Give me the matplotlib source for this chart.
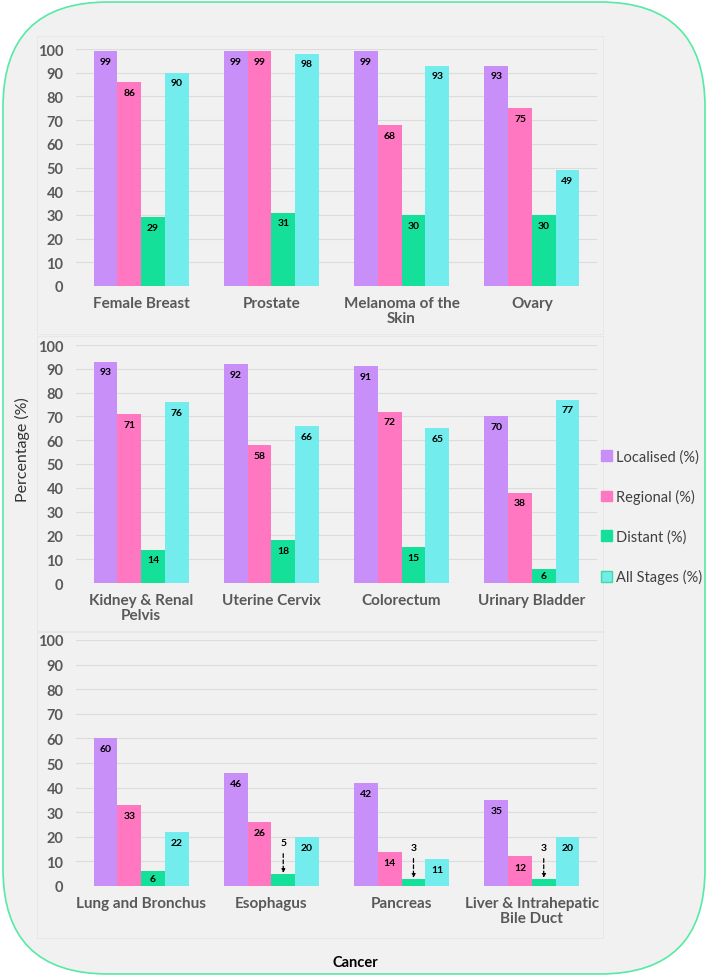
import matplotlib
matplotlib.use("Agg")
import matplotlib.pyplot as plt
import numpy as np
from matplotlib.patches import FancyBboxPatch, Rectangle, Patch
from matplotlib.transforms import IdentityTransform

plt.rcParams['font.family'] = ['Lato', 'DejaVu Sans']

# data, one block per panel
cancers_1 = ["Female Breast", "Prostate", "Melanoma of the\nSkin", "Ovary"]
localised_1 = [99, 99, 99, 93]
regional_1 = [86, 99, 68, 75]
distant_1 = [29, 31, 30, 30]
all_stages_1 = [90, 98, 93, 49]

cancers_2 = ["Kidney & Renal\nPelvis", "Uterine Cervix", "Colorectum", "Urinary Bladder"]
localised_2 = [93, 92, 91, 70]
regional_2 = [71, 58, 72, 38]
distant_2 = [14, 18, 15, 6]
all_stages_2 = [76, 66, 65, 77]

cancers_3 = ["Lung and Bronchus", "Esophagus", "Pancreas", "Liver & Intrahepatic\nBile Duct"]
localised_3 = [60, 46, 42, 35]
regional_3 = [33, 26, 14, 12]
distant_3 = [6, 5, 3, 3]
all_stages_3 = [22, 20, 11, 20]

series_names = ["Localised (%)", "Regional (%)", "Distant (%)", "All Stages (%)"]
colors = ["#c98ff9", "#ff77c0", "#14e09a", "#72ecec"]

panels = [
    (cancers_1, [localised_1, regional_1, distant_1, all_stages_1]),
    (cancers_2, [localised_2, regional_2, distant_2, all_stages_2]),
    (cancers_3, [localised_3, regional_3, distant_3, all_stages_3]),
]

W, H = 708, 978
fig = plt.figure(figsize=(W / 100, H / 100), dpi=100, facecolor="white")

# rounded background
bg = FancyBboxPatch((3, 3), W - 6, H - 6, boxstyle="round,pad=0,rounding_size=105",
                    facecolor="#f1f1f1", edgecolor="#55eaa5", linewidth=1.2,
                    transform=IdentityTransform(), zorder=-10)
fig.add_artist(bg)

# faint chart-area frames (pixel coords from top)
frames = [(37, 37, 603, 335), (37, 337, 603, 632), (37, 633, 603, 939)]
for x0, y0, x1, y1 in frames:
    fig.add_artist(Rectangle((x0, H - y1), x1 - x0, y1 - y0, fill=False,
                             edgecolor="#e6e6e6", linewidth=0.6,
                             transform=IdentityTransform(), zorder=-5))

# axes positions in pixels: (top of 100, bottom at 0)
ax_px = [(50, 287), (346, 584), (641, 887)]
left_px, right_px = 76, 597

bw = 0.182
offsets = (np.arange(4) - 1.5) * bw

for (cats, vals), (top, bot) in zip(panels, ax_px):
    ax = fig.add_axes([left_px / W, (H - bot) / H, (right_px - left_px) / W, (bot - top) / H])
    ax.set_facecolor("none")
    x = np.arange(len(cats))
    for i, (v, c) in enumerate(zip(vals, colors)):
        bars = ax.bar(x + offsets[i], v, bw, color=c, zorder=3)
        for xi, val in zip(x + offsets[i], v):
            if val <= 5:
                ax.annotate(str(val), xy=(xi, val + 0.3), xytext=(xi, val + 12.5),
                            ha="center", va="center", fontsize=7.5, fontweight="bold",
                            arrowprops=dict(arrowstyle="-|>", linestyle=(0, (3, 2)), color="black",
                                            lw=0.9, shrinkA=2.5, shrinkB=0, mutation_scale=5),
                            zorder=5)
            else:
                ty = val - 4.3 if val > 10 else val / 2
                ax.text(xi, ty, str(val), ha="center", va="center", fontsize=7.5,
                        fontweight="bold", color="black", zorder=5)
    ax.set_xlim(-0.5, 3.5)
    ax.set_ylim(0, 100)
    ax.set_yticks(np.arange(0, 101, 10))
    ax.yaxis.grid(True, color="#dcdcdc", linewidth=0.8, zorder=0)
    ax.set_axisbelow(True)
    for s in ax.spines.values():
        s.set_visible(False)
    ax.set_xticks(x)
    ax.set_xticklabels(cats, fontsize=11, fontweight="bold", color="#595959", linespacing=1.15)
    ax.tick_params(axis="both", length=0)
    ax.tick_params(axis="y", pad=9, labelsize=10.5, labelcolor="#595959")
    ax.tick_params(axis="x", pad=7)
    for lab in ax.get_yticklabels():
        lab.set_fontweight("bold")

fig.text(22 / W, (H - 450) / H, "Percentage (%)", rotation=90, ha="center", va="center",
         fontsize=11.5, color="#333333")
fig.text(355 / W, (H - 963) / H, "Cancer", ha="center", va="center",
         fontsize=10.5, fontweight="bold", color="black")

handles = [Patch(facecolor=c, edgecolor=("#3fdc9a" if i == 3 else c), linewidth=1)
           for i, c in enumerate(colors)]
fig.legend(handles, series_names, loc="upper left", bbox_to_anchor=(601 / W, (H - 450) / H),
           frameon=False, fontsize=10.5, labelcolor="#404040", handlelength=0.75, handleheight=0.75,
           handletextpad=0.3, labelspacing=1.75, borderpad=0, borderaxespad=0)

fig.savefig("out.png", dpi=100)
